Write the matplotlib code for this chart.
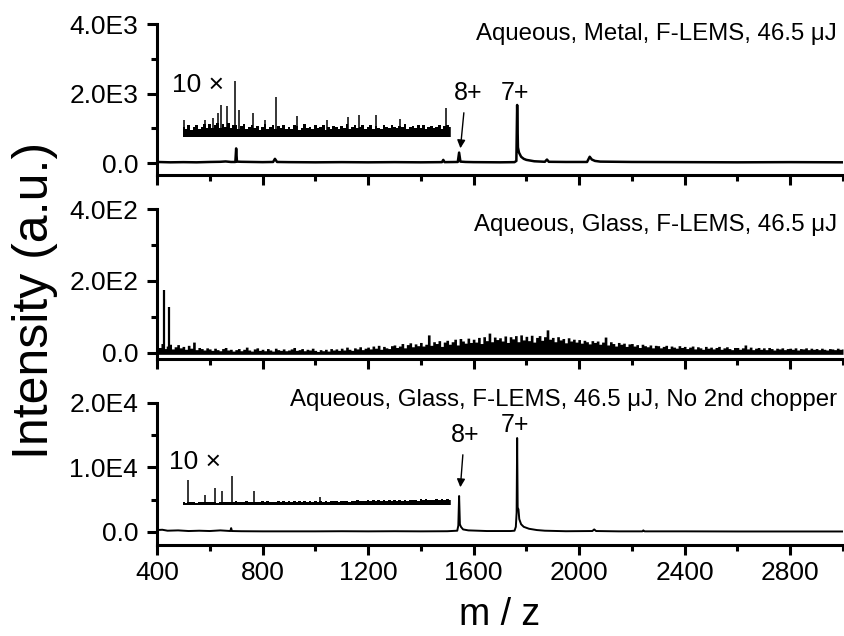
import numpy as np
import matplotlib
matplotlib.use("Agg")
import matplotlib.pyplot as plt

plt.rcParams['font.family'] = ['Liberation Sans', 'DejaVu Sans']

# ---- panel 1: aqueous, metal ----
mz_metal = [400, 450, 500, 550, 600, 640, 660, 680, 697, 700, 703, 720, 760, 800,
            840, 847, 855, 900, 1000, 1100, 1200, 1300, 1400, 1480, 1485, 1490, 1540,
            1545, 1550, 1570, 1600, 1700, 1755, 1762, 1765, 1768, 1772, 1780, 1790,
            1800, 1830, 1870, 1878, 1885, 1950, 2030, 2040, 2048, 2060, 2080, 2200,
            2400, 2600, 2800, 3000]
int_metal = [30, 20, 25, 20, 30, 35, 45, 30, 30, 420, 40, 35, 30, 25,
             30, 120, 30, 25, 20, 25, 20, 25, 20, 25, 90, 25, 30,
             300, 40, 30, 25, 20, 25, 60, 1670, 450, 300, 180, 120,
             90, 50, 35, 100, 35, 30, 30, 180, 100, 60, 40, 30,
             25, 20, 25, 20]

# 10x magnified section (m/z 500-1510, step 10): noise band + single spikes
mz_metal_x10 = np.arange(500, 1520, 10)
int_metal_x10 = [290, 240, 350, 210, 300, 330, 220, 280, 360, 250,
                 380, 260, 340, 410, 270, 360, 300, 390, 250, 330,
                 350, 230, 310, 370, 220, 290, 340, 260, 320, 210,
                 300, 360, 240, 280, 330, 220, 310, 270, 350, 240,
                 290, 230, 340, 310, 200, 270, 360, 250, 300, 220,
                 330, 260, 290, 350, 210, 300, 240, 320, 280, 230,
                 310, 270, 360, 220, 290, 330, 250, 300, 340, 230,
                 280, 350, 240, 310, 270, 220, 330, 290, 260, 340,
                 300, 250, 320, 280, 360, 230, 290, 310, 250, 330,
                 270, 340, 230, 300, 320, 250, 290, 350, 240, 310,
                 330, 280]
mz_metal_x10_spikes = [503, 582, 612, 632, 643, 665, 696, 711, 765, 810, 851,
                       931, 1044, 1124, 1166, 1230, 1321, 1496]
int_metal_x10_spikes = [490, 490, 545, 690, 920, 890, 1610, 775, 690, 490, 1150,
                        600, 490, 575, 630, 630, 515, 830]

# ---- panel 2: aqueous, glass ----
mz_glass = np.arange(400, 3010, 10)
int_glass = [22, 15, 26, 12, 19, 24, 11, 17, 23, 14,
             18, 10, 21, 13, 30, 9, 15, 12, 8, 14,
             11, 7, 13, 9, 6, 12, 15, 8, 10, 5,
             9, 12, 6, 10, 16, 8, 5, 11, 14, 7,
             10, 6, 12, 8, 5, 13, 9, 7, 11, 6,
             8, 11, 15, 7, 9, 12, 6, 10, 8, 13,
             7, 4, 9, 6, 10, 5, 12, 8, 11, 7,
             13, 8, 16, 10, 7, 14, 11, 17, 9, 13,
             16, 11, 19, 13, 21, 10, 18, 14, 12, 20,
             22, 15, 19, 26, 14, 23, 28, 17, 25, 20,
             29, 19, 24, 50, 21, 31, 26, 34, 18, 30,
             35, 24, 31, 38, 22, 40, 33, 27, 41, 29,
             38, 30, 43, 26, 45, 34, 55, 31, 44, 37,
             42, 33, 47, 29, 45, 39, 48, 31, 50, 36,
             46, 34, 49, 30, 43, 48, 35, 45, 64, 38,
             43, 31, 45, 36, 40, 28, 42, 33, 38, 30,
             37, 27, 35, 31, 25, 34, 29, 33, 24, 30,
             44, 22, 31, 26, 19, 29, 24, 27, 18, 25,
             26, 19, 23, 15, 24, 20, 17, 22, 14, 21,
             20, 14, 18, 21, 12, 19, 16, 13, 20, 15,
             18, 12, 16, 19, 11, 17, 14, 10, 18, 13,
             16, 11, 15, 18, 10, 14, 17, 12, 9, 15,
             15, 10, 14, 22, 11, 16, 9, 13, 15, 10,
             14, 9, 15, 12, 8, 13, 11, 14, 9, 12,
             13, 10, 14, 8, 12, 11, 14, 9, 13, 10,
             12, 9, 13, 10, 8, 12, 11, 9, 13, 10,
             11]
mz_glass_peaks = [427, 445]
int_glass_peaks = [175, 128]

# ---- panel 3: aqueous, glass, no 2nd chopper ----
mz_noch = [400, 420, 440, 480, 520, 560, 600, 640, 678, 681, 684, 720, 800, 900,
           1000, 1100, 1200, 1300, 1400, 1500, 1538, 1542, 1545, 1548, 1552, 1560,
           1580, 1650, 1740, 1755, 1760, 1763, 1765, 1767, 1770, 1773, 1780, 1790,
           1810, 1840, 1870, 1950, 2050, 2057, 2064, 2150, 2240, 2243, 2248, 2400,
           2600, 2800, 3000]
int_noch = [300, 350, 200, 250, 150, 200, 150, 250, 150, 600, 150, 120, 100, 100,
            100, 120, 100, 120, 100, 120, 200, 1000, 5580, 1200, 800, 400,
            250, 150, 150, 200, 800, 3000, 14570, 3800, 3500, 2000, 1200, 800,
            500, 300, 200, 120, 150, 400, 150, 100, 100, 250, 100, 100,
            80, 80, 80]

mz_noch_x10 = np.arange(500, 1520, 10)
int_noch_x10 = [480, 360, 520, 400, 450, 380, 500, 420, 470, 390,
                510, 420, 480, 370, 530, 440, 490, 400, 520, 430,
                550, 430, 510, 470, 580, 420, 540, 460, 500, 440,
                570, 450, 600, 480, 540, 460, 590, 500, 560, 470,
                600, 490, 630, 470, 580, 520, 640, 500, 610, 530,
                630, 510, 650, 540, 600, 490, 660, 550, 620, 520,
                670, 560, 690, 530, 650, 580, 700, 560, 680, 600,
                720, 590, 750, 620, 700, 580, 760, 640, 730, 610,
                790, 650, 820, 680, 770, 640, 840, 700, 810, 690,
                860, 720, 890, 740, 850, 700, 910, 760, 870, 730,
                900, 760]
mz_noch_x10_spikes = [518, 582, 620, 646, 684, 768, 1018]
int_noch_x10_spikes = [3875, 1550, 2635, 2170, 4495, 2170, 1300]

# axis ticks
xticks = [400, 800, 1200, 1600, 2000, 2400, 2800]
xminor = [600, 1000, 1400, 1800, 2200, 2600, 3000]
yticks = [[0, 2000, 4000], [0, 200, 400], [0, 10000, 20000]]
ylabels = [['0.0', '2.0E3', '4.0E3'], ['0.0', '2.0E2', '4.0E2'],
           ['0.0', '1.0E4', '2.0E4']]
yminor = [[1000, 3000], [100, 300], [5000, 15000]]
ylims = [(-345, 4000), (-17, 400), (-2016, 20000)]
titles = ['Aqueous, Metal, F-LEMS, 46.5 μJ',
          'Aqueous, Glass, F-LEMS, 46.5 μJ',
          'Aqueous, Glass, F-LEMS, 46.5 μJ, No 2nd chopper']
title_y = [0.934, 0.893, 1.02]

W, H = 845, 636
fig = plt.figure(figsize=(W / 100, H / 100), dpi=100)
boxes = [(24, 175), (209, 359), (403, 545)]
axes = []
for top, bot in boxes:
    axes.append(fig.add_axes([157 / W, 1 - bot / H, 686 / W, (bot - top) / H]))

for i, ax in enumerate(axes):
    ax.set_xlim(400, 3000)
    ax.set_ylim(*ylims[i])
    for s in ['top', 'right']:
        ax.spines[s].set_visible(False)
    for s in ['left', 'bottom']:
        ax.spines[s].set_linewidth(2.2)
    ax.set_xticks(xticks)
    ax.set_xticks(xminor, minor=True)
    ax.set_yticks(yticks[i])
    ax.set_yticklabels(ylabels[i])
    ax.set_yticks(yminor[i], minor=True)
    ax.tick_params(which='major', direction='out', length=7.5, width=2.2,
                   labelsize=19, pad=6)
    ax.tick_params(which='minor', direction='out', length=4.5, width=2.2)
    ax.tick_params(axis='x', which='major', pad=4)
    if i < 2:
        ax.tick_params(axis='x', labelbottom=False)
    ax.text(0.991, title_y[i], titles[i], transform=ax.transAxes,
            ha='right', va='center', fontsize=17.3)

ax1, ax2, ax3 = axes


def draw_x10(ax, mz, vals, spk_mz, spk_vals, base):
    top = base + np.array(vals)
    ax.fill_between(mz, base, top, step='mid', color='black', lw=0)
    ax.vlines(spk_mz, base, base + np.array(spk_vals), color='black', lw=1.1)
    ax.vlines(mz[-1], base, top[-1], color='black', lw=1.1)


# panel 1
ax1.plot(mz_metal, int_metal, color='black', lw=1.8)
draw_x10(ax1, mz_metal_x10, int_metal_x10, mz_metal_x10_spikes,
         int_metal_x10_spikes, 750)
ax1.text(555, 2245, '10 ×', fontsize=19, ha='center', va='center')
ax1.text(1579, 2015, '8+', fontsize=18, ha='center', va='center')
ax1.text(1757, 2015, '7+', fontsize=18, ha='center', va='center')
ax1.annotate('', xy=(1549, 345), xytext=(1564, 1525),
             arrowprops=dict(arrowstyle='-|>', color='black', lw=1,
                             mutation_scale=12))

# panel 2
ax2.fill_between(mz_glass, -4, int_glass, step='mid', color='black', lw=0)
ax2.vlines(mz_glass_peaks, 0, int_glass_peaks, color='black', lw=1.6)

# panel 3
ax3.plot(mz_noch, int_noch, color='black', lw=1.4)
draw_x10(ax3, mz_noch_x10, int_noch_x10, mz_noch_x10_spikes,
         int_noch_x10_spikes, 4185)
ax3.text(544, 10850, '10 ×', fontsize=19, ha='center', va='center')
ax3.text(1568, 15035, '8+', fontsize=18, ha='center', va='center')
ax3.text(1757, 16585, '7+', fontsize=18, ha='center', va='center')
ax3.annotate('', xy=(1549, 6510), xytext=(1560, 12400),
             arrowprops=dict(arrowstyle='-|>', color='black', lw=1,
                             mutation_scale=12))

ax3.set_xlabel('m / z', fontsize=27, labelpad=9)
fig.text(35 / W, 1 - 300 / H, 'Intensity (a.u.)', rotation=90,
         ha='center', va='center', fontsize=36)

fig.savefig('out.png', dpi=100)
